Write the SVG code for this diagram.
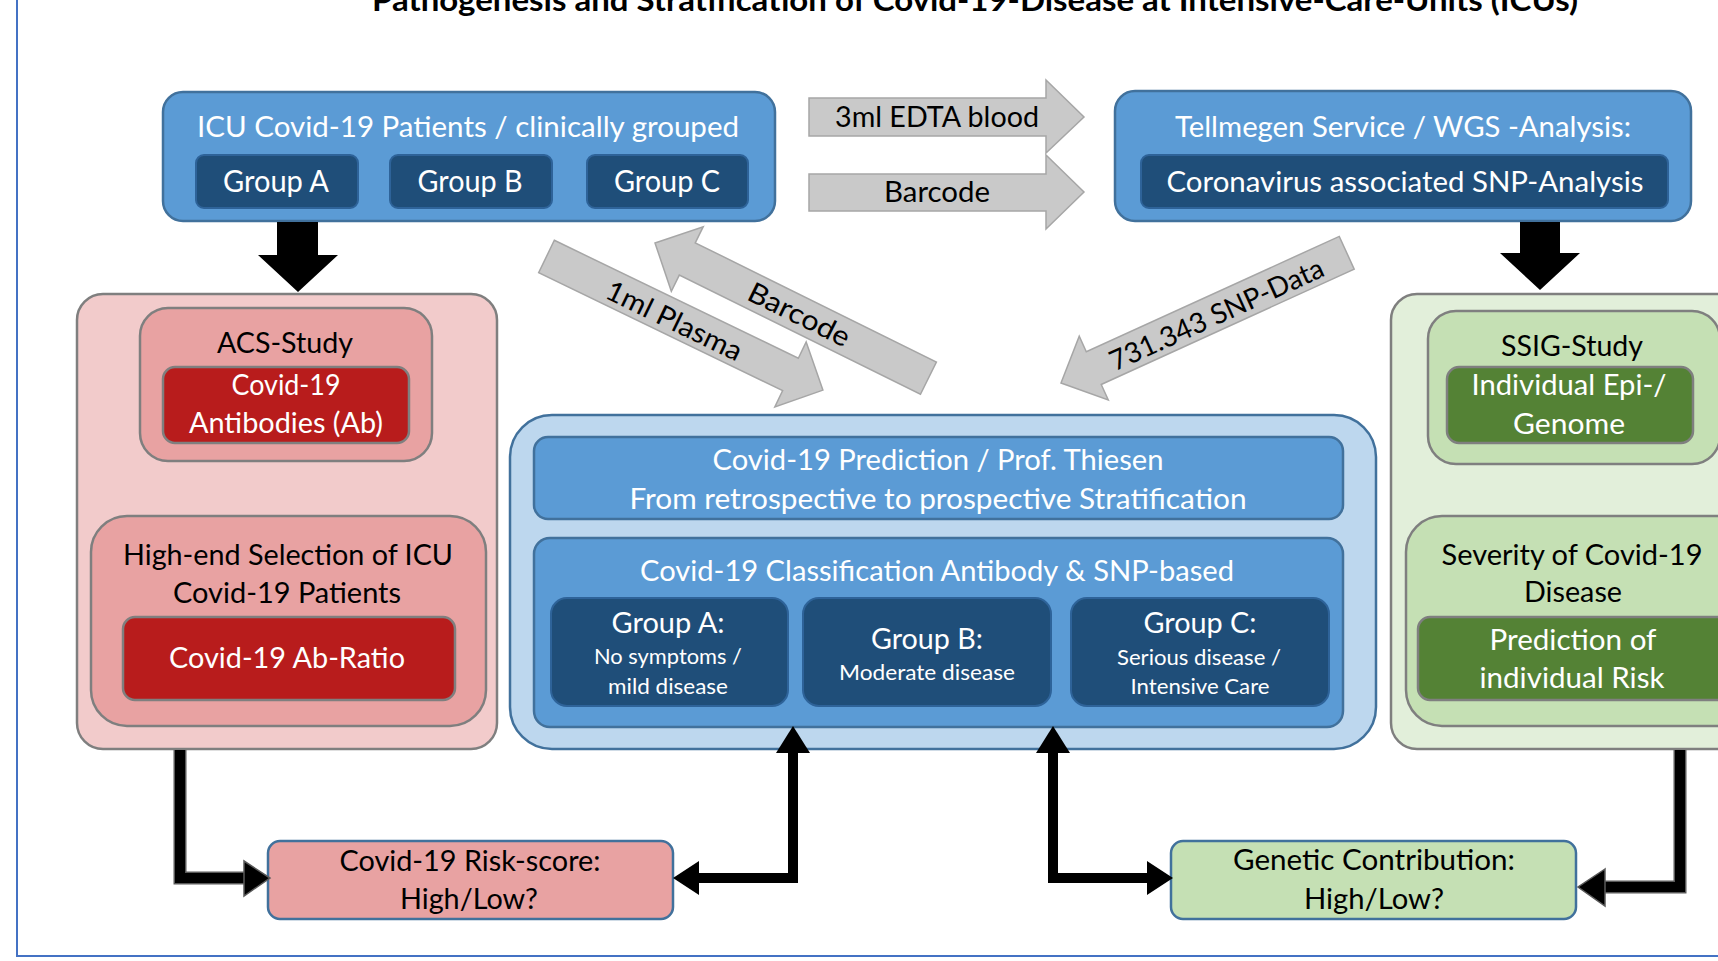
<svg xmlns="http://www.w3.org/2000/svg" width="1718" height="961" viewBox="0 0 1718 961">
<style>
.t{font-family:Lato,"Open Sans","Liberation Sans",sans-serif;font-size:28px;text-anchor:middle}
.w{fill:#ffffff}.k{fill:#000000}.s{font-size:21px}.g30{font-size:30px}
.blue{fill:#5B9BD5;stroke:#41719C;stroke-width:2.5}
.dark{fill:#1F4E79;stroke:#2E6399;stroke-width:2}
.lblue{fill:#BDD7EE;stroke:#41719C;stroke-width:2.5}
.pink0{fill:#F2CBCB;stroke:#7F7F7F;stroke-width:2.5}
.pink1{fill:#E8A2A2;stroke:#7F7F7F;stroke-width:2.5}
.red{fill:#B81C1C;stroke:#7F7F7F;stroke-width:2.5}
.gr0{fill:#E2EFDA;stroke:#7F7F7F;stroke-width:2.5}
.gr1{fill:#C5E0B4;stroke:#7F7F7F;stroke-width:2.5}
.gr2{fill:#548235;stroke:#7F7F7F;stroke-width:2.5}
.res{stroke:#41719C;stroke-width:2.5}
.garrow{fill:#C9C9C9;stroke:#A6A6A6;stroke-width:1.5}
.line{fill:none;stroke:#000;stroke-width:10}
.lineo{fill:none;stroke:#595959;stroke-width:13}
</style>
<path d="M17,0 V956 H1718" fill="none" stroke="#4472C4" stroke-width="2"/>
<text x="975" y="11" class="t k" style="font-weight:bold;font-size:30px" textLength="1206" lengthAdjust="spacingAndGlyphs">Pathogenesis and Stratification of Covid-19-Disease at Intensive-Care-Units (ICUs)</text>

<g id="icu">
<rect class="blue" x="163" y="92" width="612" height="129" rx="20"/>
<text x="468" y="137" class="t w" textLength="542" lengthAdjust="spacingAndGlyphs">ICU Covid-19 Patients  / clinically grouped</text>
<rect class="dark" x="196" y="155" width="162" height="53" rx="8"/>
<text x="276" y="192" class="t w g30" textLength="106" lengthAdjust="spacingAndGlyphs">Group A</text>
<rect class="dark" x="390" y="155" width="162" height="53" rx="8"/>
<text x="470" y="192" class="t w g30" textLength="105" lengthAdjust="spacingAndGlyphs">Group B</text>
<rect class="dark" x="587" y="155" width="161" height="53" rx="8"/>
<text x="667" y="192" class="t w g30" textLength="106" lengthAdjust="spacingAndGlyphs">Group C</text>
</g>

<g id="tellmegen">
<rect class="blue" x="1115" y="91" width="576" height="130" rx="20"/>
<text x="1403" y="137" class="t w" textLength="456" lengthAdjust="spacingAndGlyphs">Tellmegen Service / WGS -Analysis:</text>
<rect class="dark" x="1141" y="155" width="527" height="53" rx="8"/>
<text x="1405" y="192" class="t w" textLength="477" lengthAdjust="spacingAndGlyphs">Coronavirus associated SNP-Analysis</text>
</g>

<g id="antibody">
<rect class="pink0" x="77" y="294" width="420" height="455" rx="26"/>
<rect class="pink1" x="140" y="308" width="292" height="153" rx="28"/>
<text x="285" y="353" class="t k" textLength="136" lengthAdjust="spacingAndGlyphs">ACS-Study</text>
<rect class="red" x="163" y="367" width="246" height="76" rx="12"/>
<text x="286" y="395" class="t w" textLength="109" lengthAdjust="spacingAndGlyphs">Covid-19</text>
<text x="286" y="433" class="t w" textLength="194" lengthAdjust="spacingAndGlyphs">Antibodies (Ab)</text>
<rect class="pink1" x="91" y="516" width="395" height="210" rx="36"/>
<text x="288" y="565" class="t k" textLength="330" lengthAdjust="spacingAndGlyphs">High-end Selection of ICU</text>
<text x="287" y="603" class="t k" textLength="228" lengthAdjust="spacingAndGlyphs">Covid-19 Patients</text>
<rect class="red" x="123" y="617" width="332" height="83" rx="12"/>
<text x="287" y="668" class="t w" textLength="236" lengthAdjust="spacingAndGlyphs">Covid-19 Ab-Ratio</text>
</g>

<g id="genome">
<rect class="gr0" x="1391" y="294" width="420" height="455" rx="26"/>
<rect class="gr1" x="1428" y="311" width="292" height="153" rx="28"/>
<text x="1572" y="356" class="t k" textLength="142" lengthAdjust="spacingAndGlyphs">SSIG-Study</text>
<rect class="gr2" x="1447" y="367" width="246" height="76" rx="12"/>
<text x="1569" y="395" class="t w" textLength="195" lengthAdjust="spacingAndGlyphs">Individual Epi-/</text>
<text x="1569" y="434" class="t w" textLength="112" lengthAdjust="spacingAndGlyphs">Genome</text>
<rect class="gr1" x="1406" y="516" width="395" height="210" rx="36"/>
<text x="1572" y="565" class="t k" textLength="261" lengthAdjust="spacingAndGlyphs">Severity of Covid-19</text>
<text x="1573" y="602" class="t k" textLength="98" lengthAdjust="spacingAndGlyphs">Disease</text>
<rect class="gr2" x="1418" y="617" width="332" height="83" rx="12"/>
<text x="1573" y="650" class="t w" textLength="167" lengthAdjust="spacingAndGlyphs">Prediction of</text>
<text x="1572" y="688" class="t w" textLength="185" lengthAdjust="spacingAndGlyphs">individual Risk</text>
</g>

<g id="prediction">
<rect class="lblue" x="510" y="415" width="866" height="334" rx="42"/>
<rect class="blue" x="534" y="437" width="809" height="82" rx="14"/>
<text x="938" y="470" class="t w" textLength="451" lengthAdjust="spacingAndGlyphs">Covid-19 Prediction / Prof. Thiesen</text>
<text x="938" y="509" class="t w" textLength="617" lengthAdjust="spacingAndGlyphs">From retrospective to prospective Stratification</text>
<rect class="blue" x="534" y="538" width="809" height="189" rx="16"/>
<text x="937" y="581" class="t w" textLength="594" lengthAdjust="spacingAndGlyphs">Covid-19 Classification Antibody &amp; SNP-based</text>
<rect class="dark" x="551" y="598" width="237" height="108" rx="16"/>
<text x="668" y="633" class="t w" textLength="113" lengthAdjust="spacingAndGlyphs">Group A:</text>
<text x="668" y="664" class="t w s" textLength="148" lengthAdjust="spacingAndGlyphs">No symptoms /</text>
<text x="668" y="694" class="t w s" textLength="120" lengthAdjust="spacingAndGlyphs">mild disease</text>
<rect class="dark" x="803" y="598" width="248" height="108" rx="16"/>
<text x="927" y="649" class="t w" textLength="112" lengthAdjust="spacingAndGlyphs">Group B:</text>
<text x="927" y="680" class="t w s" textLength="176" lengthAdjust="spacingAndGlyphs">Moderate disease</text>
<rect class="dark" x="1071" y="598" width="258" height="108" rx="16"/>
<text x="1200" y="633" class="t w" textLength="113" lengthAdjust="spacingAndGlyphs">Group C:</text>
<text x="1199" y="665" class="t w s" textLength="164" lengthAdjust="spacingAndGlyphs">Serious disease /</text>
<text x="1200" y="694" class="t w s" textLength="139" lengthAdjust="spacingAndGlyphs">Intensive Care</text>
</g>

<g id="riskscore">
<rect class="pink1 res" x="268" y="841" width="405" height="78" rx="12"/>
<text x="470" y="871" class="t k" textLength="261" lengthAdjust="spacingAndGlyphs">Covid-19 Risk-score:</text>
<text x="469" y="909" class="t k" textLength="138" lengthAdjust="spacingAndGlyphs">High/Low?</text>
</g>

<g id="genetic">
<rect class="gr1 res" x="1171" y="841" width="405" height="78" rx="12"/>
<text x="1374" y="870" class="t k" textLength="282" lengthAdjust="spacingAndGlyphs">Genetic Contribution:</text>
<text x="1374" y="909" class="t k" textLength="140" lengthAdjust="spacingAndGlyphs">High/Low?</text>
</g>

<g id="connectors">
<polygon points="277,222 318,222 318,255 338,255 298,292 258,255 277,255" fill="#000"/>
<polygon points="1520,222 1560,222 1560,253 1580,253 1540,290 1500,253 1520,253" fill="#000"/>
<polygon class="garrow" points="809,98 1046,98 1046,80 1084,117 1046,153 1046,136 809,136"/>
<text x="937" y="127" class="t k" textLength="204" lengthAdjust="spacingAndGlyphs">3ml EDTA blood</text>
<polygon class="garrow" points="809,174 1046,174 1046,155 1084,192 1046,229 1046,211 809,211"/>
<text x="937" y="202" class="t k" textLength="106" lengthAdjust="spacingAndGlyphs">Barcode</text>
<g transform="translate(546.5,256.5) rotate(25.8)">
<polygon class="garrow" points="0,-18 271,-18 271,-36 307,0 271,36 271,18 0,18"/>
<text x="143" y="12" class="t k" textLength="148" lengthAdjust="spacingAndGlyphs">1ml Plasma</text>
</g>
<g transform="translate(655,243) rotate(26.3)">
<polygon class="garrow" points="0,0 36,-36 36,-18 305,-18 305,18 36,18 36,36"/>
<text x="161" y="10" class="t k" textLength="110" lengthAdjust="spacingAndGlyphs">Barcode</text>
</g>
<g transform="translate(1061,383) rotate(-24.5)">
<polygon class="garrow" points="0,0 36,-35 36,-18 314,-18 314,18 36,18 36,35"/>
<text x="170" y="12" class="t k" textLength="232" lengthAdjust="spacingAndGlyphs">731.343 SNP-Data</text>
</g>
<path class="lineo" d="M180,750 V878 H246"/>
<path class="line" d="M180,750 V878 H246"/>
<polygon points="244,861 270,878 244,896" fill="#000" stroke="#595959" stroke-width="1.5"/>
<path class="line" d="M699,878 H793 V752"/>
<polygon points="699,861 673,878 699,895" fill="#000"/>
<polygon points="776,753 793,726 810,753" fill="#000"/>
<path class="line" d="M1053,752 V878 H1148"/>
<polygon points="1036,753 1053,726 1070,753" fill="#000"/>
<polygon points="1147,861 1173,878 1147,895" fill="#000"/>
<path class="lineo" d="M1680,750 V887 H1604"/>
<path class="line" d="M1680,750 V887 H1604"/>
<polygon points="1605,869 1578,887 1605,906" fill="#000" stroke="#595959" stroke-width="1.5"/>
</g>
</svg>
